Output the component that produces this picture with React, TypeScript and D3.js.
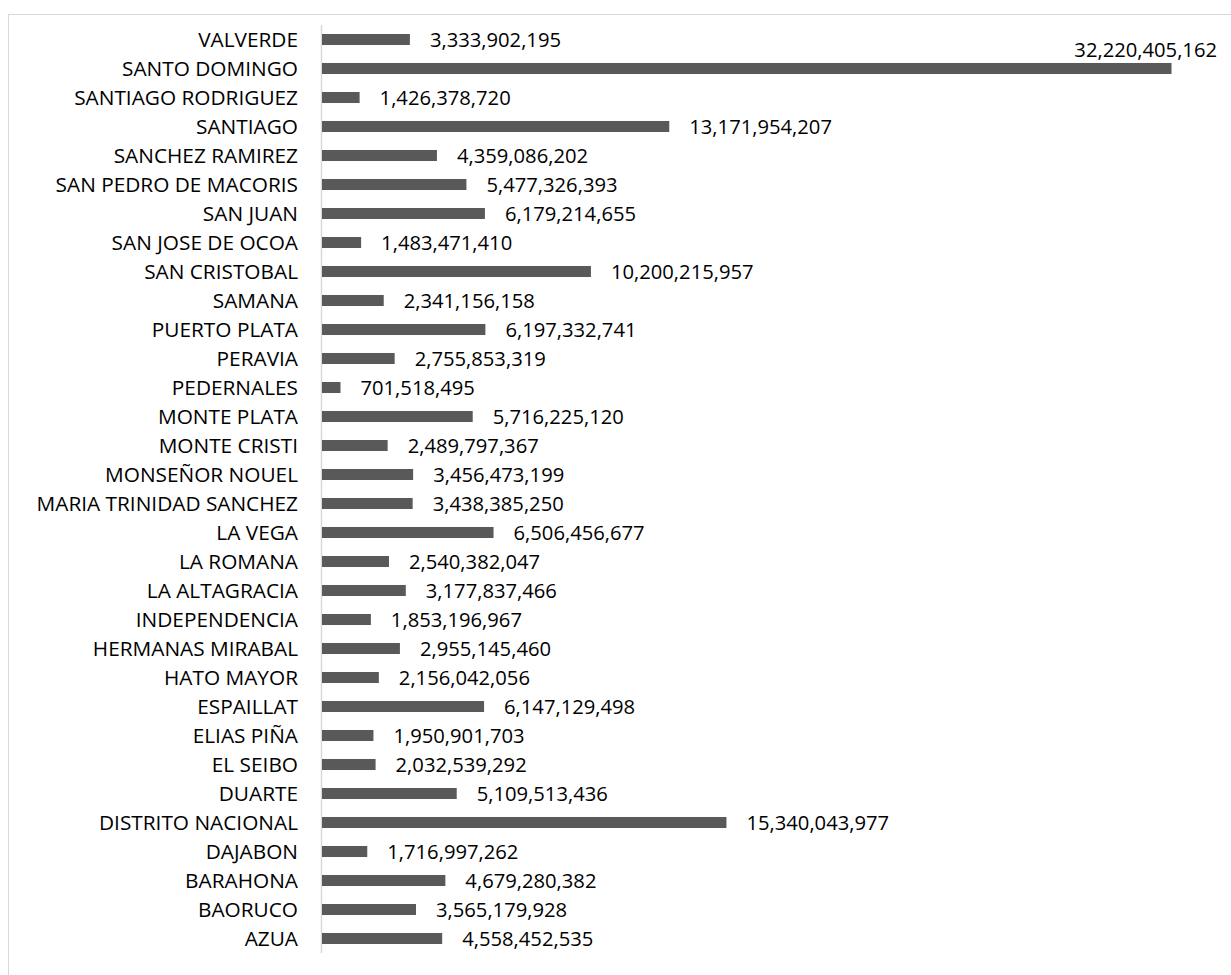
import { useRef, useEffect } from 'react'
import * as d3 from 'd3'

const provinces = [
  'VALVERDE', 'SANTO DOMINGO', 'SANTIAGO RODRIGUEZ', 'SANTIAGO', 'SANCHEZ RAMIREZ',
  'SAN PEDRO DE MACORIS', 'SAN JUAN', 'SAN JOSE DE OCOA', 'SAN CRISTOBAL', 'SAMANA',
  'PUERTO PLATA', 'PERAVIA', 'PEDERNALES', 'MONTE PLATA', 'MONTE CRISTI',
  'MONSEÑOR NOUEL', 'MARIA TRINIDAD SANCHEZ', 'LA VEGA', 'LA ROMANA', 'LA ALTAGRACIA',
  'INDEPENDENCIA', 'HERMANAS MIRABAL', 'HATO MAYOR', 'ESPAILLAT', 'ELIAS PIÑA',
  'EL SEIBO', 'DUARTE', 'DISTRITO NACIONAL', 'DAJABON', 'BARAHONA', 'BAORUCO', 'AZUA',
]

const amounts = [
  3333902195, 32220405162, 1426378720, 13171954207, 4359086202,
  5477326393, 6179214655, 1483471410, 10200215957, 2341156158,
  6197332741, 2755853319, 701518495, 5716225120, 2489797367,
  3456473199, 3438385250, 6506456677, 2540382047, 3177837466,
  1853196967, 2955145460, 2156042056, 6147129498, 1950901703,
  2032539292, 5109513436, 15340043977, 1716997262, 4679280382, 3565179928, 4558452535,
]

export default function App() {
  const ref = useRef<SVGSVGElement>(null)

  useEffect(() => {
    if (!ref.current) return
    const svg = d3.select(ref.current)
    svg.selectAll('*').remove()

    const font = '"Open Sans", sans-serif'
    const rows = provinces.map((p, i) => ({ name: p, value: amounts[i] }))

    // chart frame (extends past the window on the right and bottom)
    svg.append('rect')
      .attr('x', 8.5).attr('y', 14.5)
      .attr('width', 1260).attr('height', 1000)
      .attr('fill', '#fff').attr('stroke', '#d9d9d9')

    const y = d3.scaleBand<string>()
      .domain(provinces)
      .range([25, 953])
      .paddingInner(0.62)
      .paddingOuter(0.31)

    const x = d3.scaleLinear()
      .domain([0, d3.max(amounts)!])
      .range([322, 1171.5])

    // category axis line
    svg.append('line')
      .attr('x1', 321.5).attr('x2', 321.5)
      .attr('y1', 25).attr('y2', 953)
      .attr('stroke', '#d9d9d9').attr('stroke-width', 1.5)

    // category labels
    svg.append('g')
      .selectAll('text')
      .data(rows)
      .join('text')
      .attr('x', 298)
      .attr('y', (d) => y(d.name)! + y.bandwidth() / 2)
      .attr('dy', '0.35em')
      .attr('text-anchor', 'end')
      .attr('font-family', font)
      .attr('font-size', 20.8)
      .attr('fill', '#000')
      .text((d) => d.name)

    // bars
    svg.append('g')
      .selectAll('rect')
      .data(rows)
      .join('rect')
      .attr('x', x(0))
      .attr('y', (d) => y(d.name)!)
      .attr('width', (d) => x(d.value) - x(0))
      .attr('height', y.bandwidth())
      .attr('fill', '#595959')

    // value labels
    const fmt = d3.format(',')
    const rightLimit = 1217
    const labels = svg.append('g')
    rows.forEach((d) => {
      const cy = y(d.name)! + y.bandwidth() / 2
      const t = labels.append('text')
        .attr('font-family', font)
        .attr('font-size', 20.2)
        .attr('fill', '#000')
        .attr('dy', '0.35em')
        .text(fmt(d.value))
      const w = (t.node() as SVGTextElement).getComputedTextLength()
      const lx = x(d.value) + 20
      if (lx + w > rightLimit) {
        // no room on the right: sit above the bar end
        t.attr('x', rightLimit).attr('y', cy - 19).attr('text-anchor', 'end')
      } else {
        t.attr('x', lx).attr('y', cy)
      }
    })
  }, [])

  return (
    <svg
      ref={ref}
      width={1231}
      height={975}
      style={{ position: 'absolute', left: 0, top: 0, display: 'block' }}
    />
  )
}
